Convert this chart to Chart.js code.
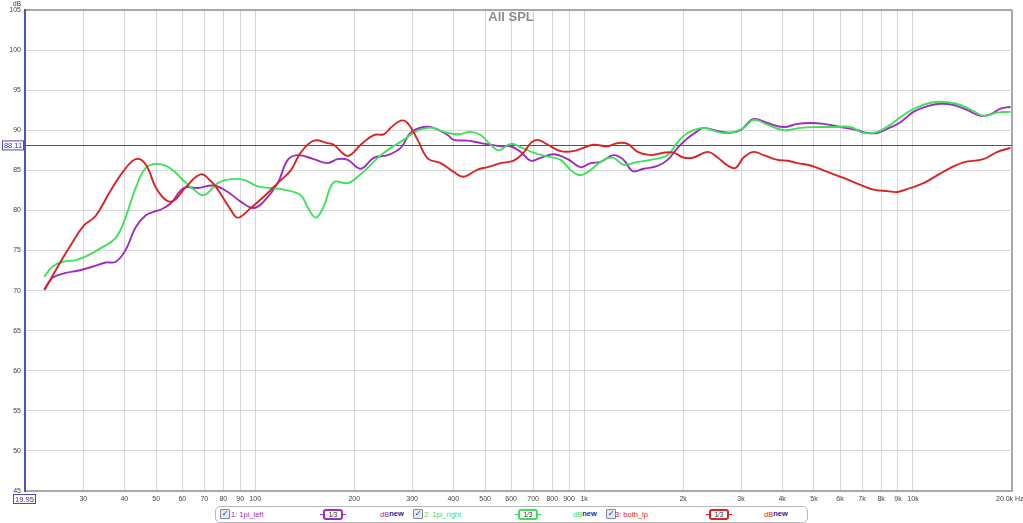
<!DOCTYPE html>
<html><head><meta charset="utf-8">
<script src="https://cdn.jsdelivr.net/npm/chart.js@4.4.0/dist/chart.umd.min.js"></script>
<style>
html,body{margin:0;padding:0;background:#fff;}
#wrap{position:relative;width:1023px;height:523px;overflow:hidden;background:#fff;}
#c{position:absolute;left:0;top:0;}
#legend{position:absolute;left:215px;top:506px;width:593px;height:17px;border:1px solid #b8b8b8;border-radius:5px;background:#fff;box-sizing:border-box;font:7.5px "Liberation Sans",Arial,sans-serif;}
.cb{position:absolute;top:2px;width:8px;height:8px;border:1px solid #7d8ba3;background:#e3e9f2;border-radius:1px;color:#2a3f7a;font:bold 8px "DejaVu Sans",sans-serif;line-height:8px;text-align:center;}
.tx{position:absolute;top:3px;white-space:nowrap;}
.bd{position:absolute;top:2px;width:16px;height:7px;border:2px solid;border-radius:3px;font:7px "Liberation Sans",sans-serif;line-height:7px;text-align:center;}
.bd:before,.bd:after{content:"";position:absolute;top:3px;width:3px;height:1px;background:currentColor;}
.bd:before{left:-5px;} .bd:after{right:-5px;}
.db{position:absolute;top:3px;white-space:nowrap;}
.db b{color:#1b2a9a;font-weight:bold;position:relative;top:-1px;}
</style>
</head><body>
<div id="wrap">
<canvas id="c" width="1023" height="523"></canvas>
<div id="legend">
  <div class="cb" style="left:4px">✓</div><div class="tx" style="left:15px;color:#a02cbf">1: 1pi_left</div>
  <div class="bd" style="left:107px;border-color:#a02cbf;color:#a02cbf"><span style="color:#333">1⁄3</span></div>
  <div class="db" style="left:164px;color:#a02cbf">dB<b>new</b></div>
  <div class="cb" style="left:197px">✓</div><div class="tx" style="left:208px;color:#3fe05a">2: 1pi_right</div>
  <div class="bd" style="left:302px;border-color:#3fe05a;color:#3fe05a"><span style="color:#333">1⁄3</span></div>
  <div class="db" style="left:357px;color:#3fe05a">dB<b>new</b></div>
  <div class="cb" style="left:390px">✓</div><div class="tx" style="left:399px;color:#d82424">3: both_lp</div>
  <div class="bd" style="left:493px;border-color:#d82424;color:#d82424"><span style="color:#333">1⁄3</span></div>
  <div class="db" style="left:548px;color:#d82424">dB<b>new</b></div>
</div>
</div>
<script>
// ---- data (frequency Hz, SPL dB) ----
const leftData = [[22.8,70.1],[24.2,71.6],[26.5,72.2],[29.1,72.5],[32.1,73.0],[35.1,73.5],[37.7,73.6],[40.4,75.1],[43.3,77.9],[46.5,79.4],[49.8,79.9],[51.6,80.1],[55.4,80.9],[60.6,82.8],[66.9,82.8],[74.8,83.1],[82.5,82.3],[90.3,81.1],[98.9,80.3],[106.1,81.1],[117,83.4],[125.6,86.3],[134.7,86.9],[150.6,86.4],[166.1,85.9],[178.1,86.4],[191.1,86.3],[209.3,85.2],[229.2,86.55],[252.7,86.9],[276.8,87.8],[296.9,89.7],[325.2,90.4],[348.8,90.3],[384.7,89.4],[401.2,88.8],[442.5,88.7],[484.6,88.4],[519.7,88.2],[557.4,88.0],[597.8,88.0],[641.2,87.3],[687.7,86.2],[737.5,86.55],[807.8,87.0],[891.1,86.4],[975.9,85.4],[1046,85.9],[1122,86.05],[1229,86.9],[1319,86.3],[1404,84.9],[1517,85.2],[1673,85.55],[1794,86.3],[1924,87.8],[2063,89.0],[2213,89.9],[2308,90.3],[2546,89.9],[2788,89.7],[2991,90.0],[3275,91.4],[3612,90.9],[4041,90.4],[4456,90.8],[4881,90.9],[5346,90.8],[6021,90.4],[6780,90.0],[7272,89.66],[7801,89.66],[8366,90.2],[9162,91.0],[10035,92.3],[11069,93.0],[12124,93.3],[13278,93.15],[14646,92.5],[16040,91.8],[17200,92.0],[18450,92.7],[19790,92.9]];
const rightData = [[22.8,71.7],[24.2,73.0],[26.0,73.6],[28.5,73.8],[31.2,74.45],[34.4,75.45],[37.7,76.6],[40.4,79.2],[43.3,82.8],[46.5,85.3],[50.5,85.8],[55.4,85.2],[60.6,83.7],[65,82.6],[69.8,81.9],[76.9,83.4],[84.2,83.9],[92.3,83.8],[101.8,83.0],[111.4,82.8],[122.1,82.6],[137.5,81.9],[144.4,80.4],[152.8,79.1],[161.5,80.5],[173.2,83.5],[191.1,83.4],[204.9,84.2],[219.8,85.3],[235.7,86.55],[258.2,87.8],[282.7,88.8],[303.2,89.7],[325.2,90.2],[348.8,90.3],[374.1,89.8],[412.6,89.5],[451.9,89.8],[484.6,89.4],[519.7,88.2],[549.6,87.5],[597.8,88.3],[641.2,87.9],[702.3,87.2],[774.6,86.7],[848.4,86.3],[910,85.05],[975.9,84.4],[1046,85.05],[1147,86.3],[1229,86.55],[1319,85.7],[1454,86.05],[1593,86.3],[1794,86.9],[1924,88.5],[2063,89.66],[2308,90.3],[2546,89.8],[2788,89.66],[3055,90.3],[3275,91.3],[3612,90.7],[4041,90.0],[4551,90.3],[5126,90.4],[5733,90.4],[6457,90.4],[7071,89.66],[7801,89.8],[8544,90.7],[9357,91.9],[10320,92.9],[11544,93.5],[12733,93.5],[13947,93.15],[15276,92.4],[16380,91.8],[18064,92.2],[19790,92.3]];
const bothData = [[22.9,70.1],[25.6,73.6],[27.5,75.7],[30.1,78.1],[32.7,79.3],[35.9,82.1],[39.6,84.8],[43.3,86.4],[46.5,85.7],[49.8,82.9],[53.5,81.3],[56.5,81.2],[61.5,82.9],[68.3,84.5],[73.5,83.6],[76.9,82.6],[84.2,80.1],[88.5,79.1],[96.9,80.3],[106.1,81.7],[117,83.4],[128.2,85.0],[137.5,87.2],[150.6,88.7],[166.1,88.4],[173.2,88.2],[191.1,86.8],[209.3,88.2],[229.2,89.4],[245.8,89.5],[258.2,90.3],[276.8,91.2],[290.7,90.9],[311.8,88.8],[334.4,86.5],[366.3,85.9],[401.2,84.8],[430.3,84.2],[474.6,85.1],[508.9,85.4],[557.4,85.9],[610.5,86.2],[654.8,87.2],[687.7,88.4],[722.2,88.8],[774.6,88.2],[848.4,87.4],[929.3,87.4],[996.5,87.8],[1069,88.2],[1179,88.0],[1264,88.4],[1356,88.3],[1454,87.3],[1593,86.9],[1744,87.2],[1871,87.2],[2006,86.6],[2152,86.6],[2373,87.3],[2546,86.6],[2731,85.6],[2888,85.3],[3055,86.6],[3275,87.3],[3512,86.9],[3874,86.3],[4154,86.2],[4456,85.9],[4881,85.6],[5497,84.8],[6150,84.05],[6924,83.2],[7586,82.6],[8366,82.4],[8973,82.3],[9826,82.8],[10762,83.4],[11872,84.4],[13002,85.3],[14243,86.0],[16380,86.4],[18064,87.3],[19790,87.8]];

const xTicks = [20,30,40,50,60,70,80,90,100,200,300,400,500,600,700,800,900,1000,2000,3000,4000,5000,6000,7000,8000,9000,10000,20000];
const xTickLabels = ['','30','40','50','60','70','80','90','100','200','300','400','500','600','700','800','900','1k','2k','3k','4k','5k','6k','7k','8k','9k','10k',''];
const yMin = 45, yMax = 105, yStep = 5;
const xMin = 19.95, xMax = 20000;
const cursorDb = 88.11;
const lastXLabel = '20.0k Hz';
const titleText = 'All SPL';

const toPts = a => a.map(p => ({x:p[0], y:p[1]}));

const decor = {
  id:'decor',
  beforeDatasetsDraw(chart){
    const {ctx, chartArea:a, scales:{y}} = chart;
    const py = Math.round(y.getPixelForValue(cursorDb)) + 0.5;
    ctx.save();
    ctx.strokeStyle = '#4646c4'; ctx.lineWidth = 1;
    ctx.beginPath(); ctx.moveTo(a.left, py); ctx.lineTo(a.right, py); ctx.stroke();
    ctx.restore();
  },
  afterDraw(chart){
    const {ctx, chartArea:a, scales:{x,y}} = chart;
    ctx.save();
    ctx.font = 'bold 13px "Liberation Sans", Arial, sans-serif';
    ctx.fillStyle = '#8c8c8c'; ctx.textAlign = 'center'; ctx.textBaseline = 'middle';
    ctx.fillText(titleText, 511, 17);
    ctx.font = '7px "Liberation Sans", Arial, sans-serif';
    ctx.fillStyle = '#444'; ctx.textAlign = 'center';
    ctx.fillText('dB', 17, 4);
    const py = y.getPixelForValue(cursorDb);
    ctx.fillStyle = '#fff'; ctx.strokeStyle = '#4a4ab8'; ctx.lineWidth = 1;
    ctx.fillRect(2.5, py - 4.5, 21, 9); ctx.strokeRect(2.5, py - 4.5, 21, 9);
    ctx.fillStyle = '#3434a8'; ctx.font = '7.5px "Liberation Sans", Arial, sans-serif';
    ctx.fillText(cursorDb.toFixed(2), 13, py + 0.5);
    ctx.fillStyle = '#fff';
    ctx.fillRect(13.5, 494.5, 22, 9); ctx.strokeRect(13.5, 494.5, 22, 9);
    ctx.fillStyle = '#3434a8';
    ctx.fillText(xMin.toFixed(2), 24.5, 499.5);
    ctx.fillStyle = '#444'; ctx.font = '7px "Liberation Sans", Arial, sans-serif';
    ctx.textAlign = 'left';
    ctx.fillText(lastXLabel, x.getPixelForValue(xMax) - 16, 499.5);
    ctx.restore();
  }
};

const tickFont = {family:'"Liberation Sans", Arial, sans-serif', size:7};

new Chart(document.getElementById('c'), {
  type:'line',
  data:{datasets:[
    {label:'3: both_lp', data:toPts(bothData), borderColor:'#d82424', borderWidth:1.9, pointRadius:0, tension:0.4, fill:false},
    {label:'2: 1pi_right', data:toPts(rightData), borderColor:'#3fe05a', borderWidth:1.9, pointRadius:0, tension:0.4, fill:false},
    {label:'1: 1pi_left', data:toPts(leftData), borderColor:'#a02cbf', borderWidth:1.9, pointRadius:0, tension:0.4, fill:false}
  ]},
  options:{
    responsive:false, animation:false, events:[],
    layout:{padding:{left:0, right:11, top:10, bottom:0}},
    plugins:{legend:{display:false}, tooltip:{enabled:false}, title:{display:false}},
    scales:{
      x:{type:'logarithmic', min:xMin, max:xMax,
        afterBuildTicks:s=>{ s.ticks = xTicks.map(v=>({value:v})); },
        afterFit:s=>{ s.height = 32; },
        ticks:{autoSkip:false, maxRotation:0, minRotation:0, padding:4, color:'#444', font:tickFont,
          callback:(v,i)=> xTickLabels[i]},
        grid:{drawTicks:false, color:c=> c.tick && c.tick.value===xMax ? '#a8a8a8' : '#d6d6d6',
          lineWidth:c=> c.tick && c.tick.value===xMax ? 2 : 1},
        border:{color:'#a8a8a8', width:2}
      },
      y:{min:yMin, max:yMax,
        afterFit:s=>{ s.width = 25; },
        ticks:{stepSize:yStep, padding:4, color:'#444', font:tickFont},
        grid:{drawTicks:false, color:c=> c.tick && c.tick.value===yMax ? '#a8a8a8' : '#d6d6d6',
          lineWidth:c=> c.tick && c.tick.value===yMax ? 2 : 1},
        border:{color:'#5252c0', width:2}
      }
    }
  },
  plugins:[decor]
});
</script>
</body></html>
